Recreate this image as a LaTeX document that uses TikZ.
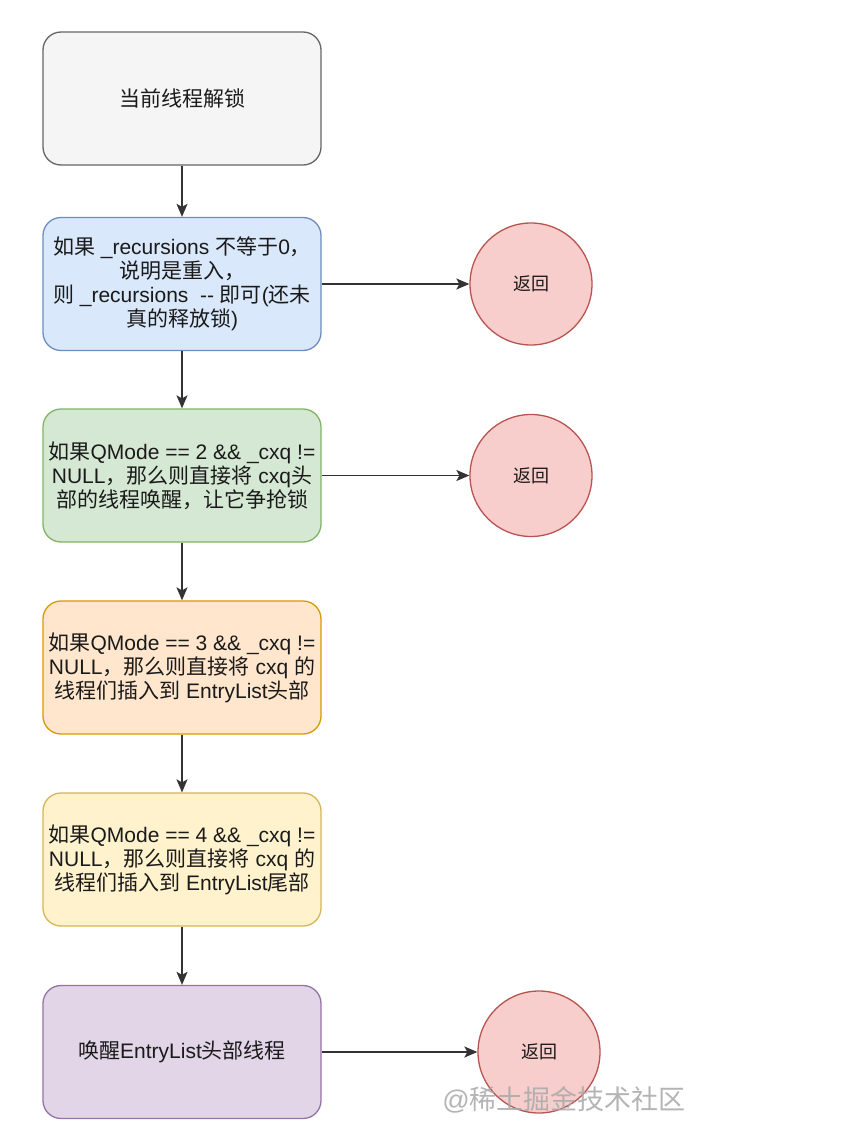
\documentclass[tikz,border=0pt]{standalone}
\usepackage{fontspec}
\setmainfont{Liberation Sans}
\newfontfamily\cjkfont{Noto Sans CJK SC}
\newfontfamily\latinfont{Liberation Sans}
\XeTeXinterchartokenstate=1
\newXeTeXintercharclass\CJKcls
\count255="3000
\loop\XeTeXcharclass\count255=\CJKcls\advance\count255 by 1\ifnum\count255<"A000\repeat
\count255="FF00
\loop\XeTeXcharclass\count255=\CJKcls\advance\count255 by 1\ifnum\count255<"FFF0\repeat
\XeTeXinterchartoks 0 \CJKcls={\cjkfont}
\XeTeXinterchartoks 4095 \CJKcls={\cjkfont}
\XeTeXinterchartoks \CJKcls 0={\latinfont}
\XeTeXinterchartoks \CJKcls 4095={\latinfont}
\usetikzlibrary{arrows.meta}
\definecolor{txt}{HTML}{1A1A1A}
\definecolor{lnk}{HTML}{333333}
\definecolor{grayf}{HTML}{F5F5F5}\definecolor{grayd}{HTML}{666666}
\definecolor{bluef}{HTML}{DAE8FC}\definecolor{blued}{HTML}{6C8EBF}
\definecolor{greenf}{HTML}{D5E8D4}\definecolor{greend}{HTML}{82B366}
\definecolor{orangef}{HTML}{FFE6CC}\definecolor{oranged}{HTML}{D79B00}
\definecolor{yellowf}{HTML}{FFF2CC}\definecolor{yellowd}{HTML}{D6B656}
\definecolor{purplef}{HTML}{E1D5E7}\definecolor{purpled}{HTML}{9673A6}
\definecolor{retf}{HTML}{F8CECC}\definecolor{retd}{HTML}{B85450}
\definecolor{wm}{HTML}{A8A8A8}
\tikzset{
  box/.style={draw, rectangle, rounded corners=18pt, minimum width=278pt, minimum height=133pt,
    line width=1.3pt, align=center, text=txt, inner sep=2pt,
    font=\fontsize{21}{24}\selectfont},
  ret/.style={draw=retd, fill=retf, circle, minimum size=122pt, line width=1.3pt, text=txt,
    inner sep=0pt, font=\fontsize{18}{22}\selectfont},
  flow/.style={draw=lnk, line width=1.5pt, -{Stealth[length=13pt,width=11pt,inset=3pt]}},
}
\begin{document}
\begin{tikzpicture}[x=1pt,y=-1pt]
\useasboundingbox[fill=white] (0,0) rectangle (846,1137);
\node[box, draw=grayd, fill=grayf] at (182,98.5) (b1) {当前线程解锁};
\node[box, draw=blued, fill=bluef] at (182,284) (b2) {如果 \_recursions 不等于0，\\说明是重入，\\则 \_recursions \ {-}{-} 即可(还未\\真的释放锁)};
\node[box, draw=greend, fill=greenf] at (182,475.5) (b3) {如果QMode == 2 \&\& \_cxq !=\\NULL，那么则直接将 cxq头\\部的线程唤醒，让它争抢锁};
\node[box, draw=oranged, fill=orangef] at (182,667.5) (b4) {如果QMode == 3 \&\& \_cxq !=\\NULL，那么则直接将 cxq 的\\线程们插入到 EntryList头部};
\node[box, draw=yellowd, fill=yellowf] at (182,859.5) (b5) {如果QMode == 4 \&\& \_cxq !=\\NULL，那么则直接将 cxq 的\\线程们插入到 EntryList尾部};
\node[box, draw=purpled, fill=purplef] at (182,1052) (b6) {唤醒EntryList头部线程};
\node[ret] at (531,284) (r1) {返回};
\node[ret] at (531,475.5) (r2) {返回};
\node[ret] at (539,1052) (r3) {返回};
\draw[flow] (b1) -- (b2);
\draw[flow] (b2) -- (b3);
\draw[flow] (b3) -- (b4);
\draw[flow] (b4) -- (b5);
\draw[flow] (b5) -- (b6);
\draw[flow] (b2) -- (r1);
\draw[flow] (b3) -- (r2);
\draw[flow] (b6) -- (r3);
\node[text=wm, opacity=0.85, font=\fontsize{27}{30}\selectfont, inner sep=0pt] at (564,1100) (wmk) {@稀土掘金技术社区};
\end{tikzpicture}
\end{document}
